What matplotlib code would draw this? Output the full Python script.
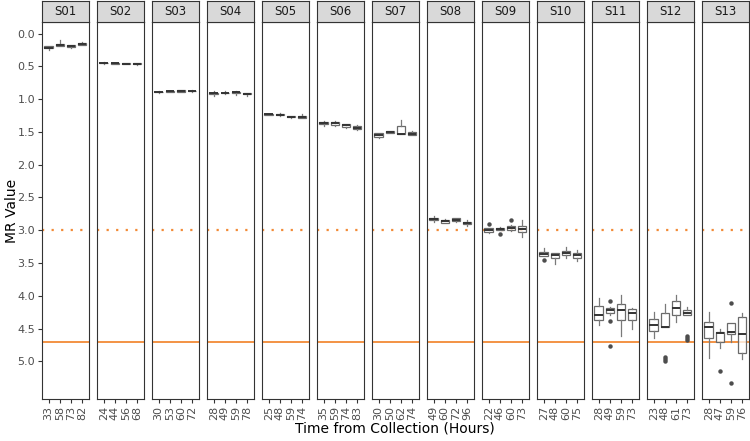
import matplotlib
matplotlib.use("Agg")
import matplotlib.pyplot as plt

# ------------------------------------------------------------------ data
SAMPLES = ["S01", "S02", "S03", "S04", "S05", "S06", "S07",
           "S08", "S09", "S10", "S11", "S12", "S13"]
TIMES = [[33, 58, 73, 82], [24, 44, 56, 68], [30, 53, 60, 72], [28, 49, 59, 78],
         [25, 48, 59, 74], [35, 59, 74, 83], [30, 50, 62, 74], [49, 60, 72, 96],
         [22, 46, 60, 73], [27, 48, 60, 75], [28, 49, 59, 73], [23, 48, 61, 73],
         [28, 47, 59, 76]]

MED = [[0.215, 0.165, 0.195, 0.155], [0.445, 0.450, 0.455, 0.460],
       [0.890, 0.880, 0.875, 0.875], [0.910, 0.905, 0.895, 0.915],
       [1.230, 1.235, 1.270, 1.265], [1.365, 1.370, 1.395, 1.440],
       [1.545, 1.500, 1.525, 1.525], [2.830, 2.865, 2.840, 2.885],
       [3.000, 2.975, 2.960, 2.975], [3.360, 3.380, 3.340, 3.380],
       [4.300, 4.220, 4.210, 4.270], [4.440, 4.470, 4.190, 4.270],
       [4.480, 4.570, 4.550, 4.590]]
Q1 = [[0.195, 0.150, 0.180, 0.140], [0.440, 0.445, 0.450, 0.450],
      [0.885, 0.875, 0.865, 0.870], [0.900, 0.900, 0.885, 0.910],
      [1.225, 1.225, 1.260, 1.250], [1.345, 1.345, 1.380, 1.415],
      [1.520, 1.485, 1.415, 1.505], [2.810, 2.840, 2.820, 2.870],
      [2.970, 2.960, 2.940, 2.930], [3.330, 3.350, 3.310, 3.340],
      [4.150, 4.190, 4.120, 4.200], [4.360, 4.260, 4.080, 4.210],
      [4.400, 4.550, 4.410, 4.330]]
Q3 = [[0.225, 0.185, 0.205, 0.170], [0.450, 0.455, 0.460, 0.470],
      [0.895, 0.885, 0.885, 0.880], [0.920, 0.910, 0.900, 0.925],
      [1.235, 1.245, 1.275, 1.280], [1.385, 1.400, 1.420, 1.460],
      [1.570, 1.515, 1.530, 1.545], [2.850, 2.890, 2.860, 2.910],
      [3.030, 2.990, 3.000, 3.030], [3.390, 3.420, 3.370, 3.420],
      [4.370, 4.270, 4.370, 4.370], [4.530, 4.470, 4.290, 4.300],
      [4.640, 4.700, 4.590, 4.880]]
WLO = [[0.190, 0.090, 0.175, 0.120], [0.435, 0.440, 0.445, 0.445],
       [0.880, 0.870, 0.860, 0.865], [0.870, 0.870, 0.880, 0.905],
       [1.220, 1.210, 1.255, 1.230], [1.330, 1.340, 1.375, 1.400],
       [1.515, 1.480, 1.320, 1.490], [2.780, 2.835, 2.810, 2.840],
       [2.960, 2.950, 2.920, 2.850], [3.270, 3.340, 3.250, 3.300],
       [4.040, 4.170, 3.990, 4.180], [4.240, 4.120, 3.990, 4.170],
       [4.240, 4.510, 4.410, 4.260]]
WHI = [[0.245, 0.190, 0.225, 0.175], [0.455, 0.460, 0.465, 0.475],
       [0.900, 0.890, 0.890, 0.885], [0.955, 0.915, 0.940, 0.950],
       [1.240, 1.250, 1.280, 1.290], [1.410, 1.405, 1.440, 1.470],
       [1.590, 1.520, 1.530, 1.550], [2.870, 2.895, 2.870, 2.930],
       [3.040, 3.000, 3.010, 3.110], [3.400, 3.510, 3.430, 3.470],
       [4.450, 4.290, 4.610, 4.500], [4.640, 4.470, 4.400, 4.300],
       [4.950, 4.800, 4.710, 4.970]]
FLIERS = [[[], [], [], []], [[], [], [], []], [[], [], [], []], [[], [], [], []],
          [[], [], [], []], [[], [], [], []], [[], [], [], []], [[], [], [], []],
          [[2.90], [3.05], [2.84], []],
          [[3.46], [], [], []],
          [[], [4.08, 4.39, 4.76], [], []],
          [[], [4.94, 4.97, 5.00], [], [4.61, 4.64, 4.67]],
          [[], [5.15], [4.11, 5.33], []]]

DOTTED_LEVEL = 3.0
SOLID_LEVEL = 4.7
YTICKS = [0.0, 0.5, 1.0, 1.5, 2.0, 2.5, 3.0, 3.5, 4.0, 4.5, 5.0]

# ------------------------------------------------------------------ layout
W, H = 750, 441
ORANGE = "#F28A36"
DARK = "#333333"
TXT = "#4D4D4D"

fig = plt.figure(figsize=(W / 100, H / 100), dpi=100)
fig.patch.set_facecolor("white")

x0, step, pw = 42.0, 55.0, 46.5
top, bot, strip_top = 22.3, 399.3, 1.0

for i, name in enumerate(SAMPLES):
    left = x0 + i * step
    ax = fig.add_axes([left / W, 1 - bot / H, pw / W, (bot - top) / H])
    stats = []
    for j in range(4):
        stats.append(dict(med=MED[i][j], q1=Q1[i][j], q3=Q3[i][j],
                          whislo=WLO[i][j], whishi=WHI[i][j],
                          fliers=FLIERS[i][j]))
    ax.axhline(DOTTED_LEVEL, color=ORANGE, lw=1.6, ls=(0, (1, 3.3)), zorder=1)
    ax.axhline(SOLID_LEVEL, color=ORANGE, lw=1.3, zorder=1)
    ax.bxp(stats, positions=[1, 2, 3, 4], widths=0.75, showcaps=False,
           patch_artist=True, manage_ticks=False,
           boxprops=dict(facecolor=(1, 1, 1, 0.75), edgecolor="#6A6A6A", lw=0.9),
           whiskerprops=dict(color="#7A7A7A", lw=0.9),
           medianprops=dict(color=DARK, lw=1.4),
           flierprops=dict(marker="o", markersize=3.2, markerfacecolor="#4D4D4D",
                           markeredgecolor="none"),
           zorder=3)
    ax.set_xlim(0.4, 4.6)
    ax.set_ylim(5.58, -0.174)
    ax.set_xticks([1, 2, 3, 4])
    ax.set_xticklabels([str(t) for t in TIMES[i]], rotation=90,
                       fontsize=8, color=TXT)
    ax.set_yticks(YTICKS)
    if i == 0:
        ax.set_yticklabels([f"{v:.1f}" for v in YTICKS], fontsize=8, color=TXT)
        ax.tick_params(axis="y", length=3, width=0.8, color=DARK, pad=2)
    else:
        ax.tick_params(axis="y", left=False, labelleft=False)
    ax.tick_params(axis="x", length=3, width=0.8, color=DARK, pad=2)
    for sp in ax.spines.values():
        sp.set_color(DARK)
        sp.set_linewidth(0.8)

    sax = fig.add_axes([left / W, 1 - top / H, pw / W, (top - strip_top) / H])
    sax.set_facecolor("#D9D9D9")
    sax.set_xticks([])
    sax.set_yticks([])
    for sp in sax.spines.values():
        sp.set_color(DARK)
        sp.set_linewidth(0.8)
    sax.text(0.5, 0.5, name, ha="center", va="center", fontsize=8.5,
             color="#1A1A1A", transform=sax.transAxes)

fig.text((x0 + 12 * step + pw + x0) / 2 / W, 1 - 428 / H,
         "Time from Collection (Hours)", ha="center", va="center", fontsize=10)
fig.text(12 / W, 1 - 211 / H, "MR Value", ha="center", va="center",
         rotation=90, fontsize=10)

fig.savefig("out.png", dpi=100)
